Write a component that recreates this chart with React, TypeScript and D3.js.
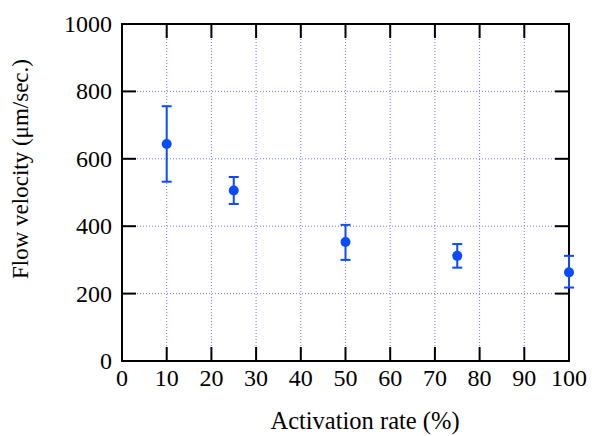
import React from "react";
import * as d3 from "d3";

const rates = [10, 25, 50, 75, 100];
const velocity = [644, 506, 353, 312, 263];
const upper = [756, 546, 404, 347, 312];
const lower = [532, 466, 300, 277, 218];
const xTicks = [0, 10, 20, 30, 40, 50, 60, 70, 80, 90, 100];
const yTicks = [0, 200, 400, 600, 800, 1000];

const W = 592, H = 436;
const L = 122, R = 569, T = 24, B = 361;
const blue = "#0a4bff";
const font = "'Liberation Serif', 'Times New Roman', serif";

export default function App() {
  const x = d3.scaleLinear().domain([0, 100]).range([L, R]);
  const y = d3.scaleLinear().domain([0, 1000]).range([B, T]);
  const tl = 14;
  return (
    <svg width={W} height={H} style={{ position: "absolute", left: 0, top: 0, background: "#fff" }}>
      {xTicks.slice(1, -1).map((t) => (
        <line key={"gx" + t} x1={x(t)} x2={x(t)} y1={T} y2={B} stroke="#7777ff" strokeWidth={1} strokeDasharray="1,2" />
      ))}
      {yTicks.slice(1, -1).map((t) => (
        <line key={"gy" + t} x1={L} x2={R} y1={y(t)} y2={y(t)} stroke="#7777ff" strokeWidth={1} strokeDasharray="1,2" />
      ))}
      {xTicks.map((t) => (
        <g key={"tx" + t}>
          <line x1={x(t)} x2={x(t)} y1={B} y2={B - tl} stroke="#000" strokeWidth={2} />
          <line x1={x(t)} x2={x(t)} y1={T} y2={T + tl} stroke="#000" strokeWidth={2} />
          <text x={x(t)} y={386} textAnchor="middle" fontFamily={font} fontSize={24} fill="#000">{t}</text>
        </g>
      ))}
      {yTicks.map((t) => (
        <g key={"ty" + t}>
          <line x1={L} x2={L + tl} y1={y(t)} y2={y(t)} stroke="#000" strokeWidth={2} />
          <line x1={R} x2={R - tl} y1={y(t)} y2={y(t)} stroke="#000" strokeWidth={2} />
          <text x={L - 10} y={y(t) + 8} textAnchor="end" fontFamily={font} fontSize={24} fill="#000">{t}</text>
        </g>
      ))}
      <rect x={L} y={T} width={R - L} height={B - T} fill="none" stroke="#000" strokeWidth={2} />
      {rates.map((r, i) => (
        <g key={"p" + r}>
          <line x1={x(r)} x2={x(r)} y1={y(upper[i])} y2={y(lower[i])} stroke={blue} strokeWidth={2} />
          <line x1={x(r) - 5} x2={x(r) + 5} y1={y(upper[i])} y2={y(upper[i])} stroke={blue} strokeWidth={2} />
          <line x1={x(r) - 5} x2={x(r) + 5} y1={y(lower[i])} y2={y(lower[i])} stroke={blue} strokeWidth={2} />
          <circle cx={x(r)} cy={y(velocity[i])} r={5} fill={blue} />
        </g>
      ))}
      <text x={365} y={429} textAnchor="middle" fontFamily={font} fontSize={24.5} fill="#000">Activation rate (%)</text>
      <text transform={`translate(28,169) rotate(-90)`} textAnchor="middle" fontFamily={font} fontSize={23} fill="#000">Flow velocity (μm/sec.)</text>
    </svg>
  );
}
